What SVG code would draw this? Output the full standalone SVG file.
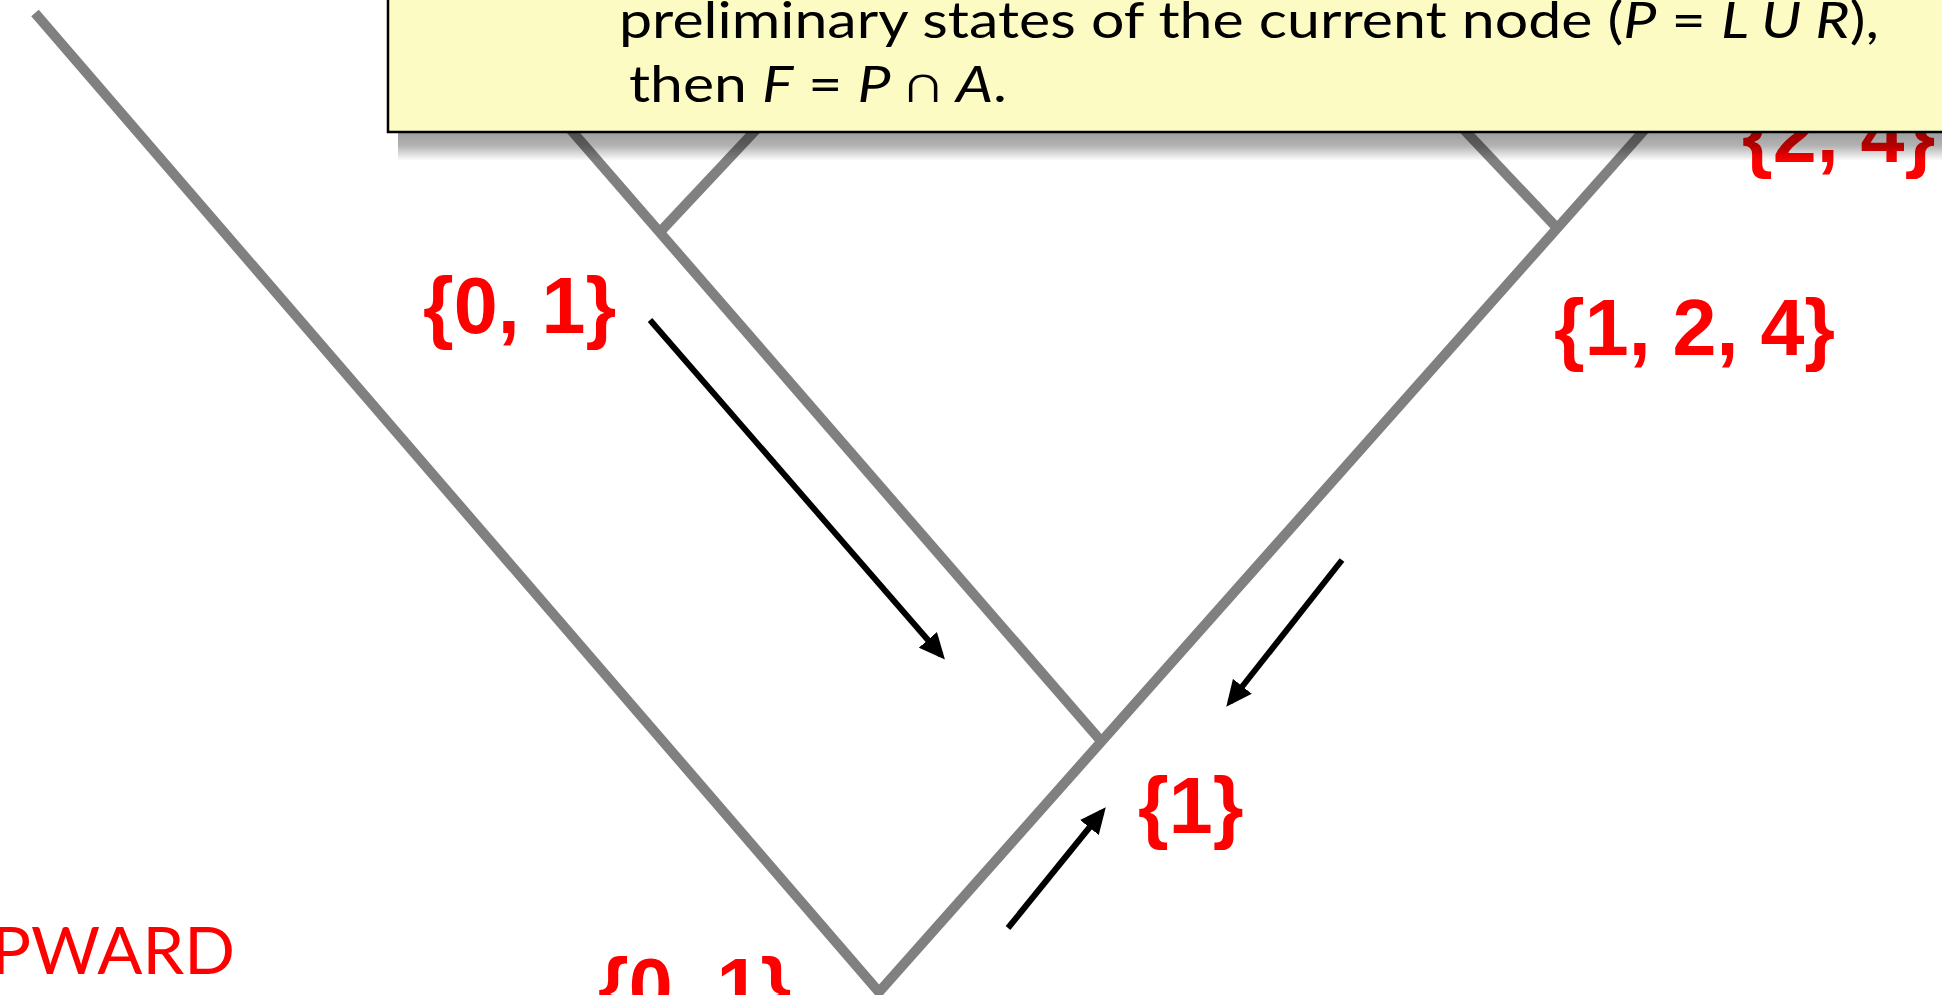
<svg xmlns="http://www.w3.org/2000/svg" width="1942" height="995" viewBox="0 0 1942 995">
  <style>
    .branch { stroke: #808080; stroke-width: 10; fill: none; stroke-linecap: butt; stroke-linejoin: miter; }
    .arrow { stroke: #000000; stroke-width: 6; fill: none; }
    .set { font-family: "Liberation Sans", Arial, sans-serif; font-weight: bold; font-size: 79px; fill: #ff0000; }
    .note { font-family: Lato, "Open Sans", sans-serif; font-size: 50px; fill: #000000; }
    .it { font-style: italic; }
    .dir { font-family: Lato, "Open Sans", sans-serif; font-size: 66px; fill: #ff0000; }
  </style>
  <defs>
    <marker id="head" markerUnits="userSpaceOnUse" viewBox="0 0 26 24" markerWidth="26" markerHeight="24" refX="20" refY="12" orient="auto">
      <path d="M0,0 L26,12 L0,24 Z" fill="#000000"/>
    </marker>
    <linearGradient id="shadowGrad" x1="0" y1="0" x2="0" y2="1">
      <stop offset="0" stop-color="#000000" stop-opacity="0.38"/>
      <stop offset="0.45" stop-color="#000000" stop-opacity="0.3"/>
      <stop offset="1" stop-color="#000000" stop-opacity="0"/>
    </linearGradient>
  </defs>
  <rect x="0" y="0" width="1942" height="995" fill="#ffffff"/>

  <g id="connectors">
    <polyline class="branch" points="35,13 879,992 1671,100"/>
    <line class="branch" x1="545" y1="100" x2="1101" y2="741"/>
    <line class="branch" x1="660" y1="232" x2="784" y2="100"/>
    <line class="branch" x1="1557" y1="228" x2="1436" y2="100"/>
    <line class="arrow" x1="650" y1="320" x2="941" y2="655" marker-end="url(#head)"/>
    <line class="arrow" x1="1342" y1="560" x2="1230" y2="702" marker-end="url(#head)"/>
    <line class="arrow" x1="1008" y1="928" x2="1102" y2="812" marker-end="url(#head)"/>
  </g>

  <g id="node-left-set">
    <text class="set" x="423" y="333">{0, 1}</text>
  </g>
  <g id="node-right-set">
    <text class="set" x="1554" y="355">{1, 2, 4}</text>
  </g>
  <g id="node-top-right-set">
    <text class="set" x="1742" y="162">{2, 4}</text>
  </g>
  <g id="node-inner-set">
    <text class="set" x="1138" y="833">{1}</text>
  </g>
  <g id="node-root-set">
    <text class="set" x="598" y="1014">{0, 1}</text>
  </g>
  <g id="node-direction">
    <text class="dir" x="-9" y="974" textLength="244" lengthAdjust="spacingAndGlyphs">PWARD</text>
  </g>

  <g id="note-box">
    <rect x="398" y="133" width="1544" height="28" fill="url(#shadowGrad)"/>
    <rect x="388" y="-5" width="1570" height="137" fill="#fcfbc4" stroke="#000000" stroke-width="2.5"/>
    <text class="note" x="619" y="38" textLength="1260" lengthAdjust="spacingAndGlyphs">preliminary states of the current node (<tspan class="it">P</tspan> = <tspan class="it">L U R</tspan>),</text>
    <text class="note" x="629" y="102" textLength="378" lengthAdjust="spacingAndGlyphs">then <tspan class="it">F</tspan> = <tspan class="it">P</tspan> ∩ <tspan class="it">A</tspan>.</text>
  </g>
</svg>
